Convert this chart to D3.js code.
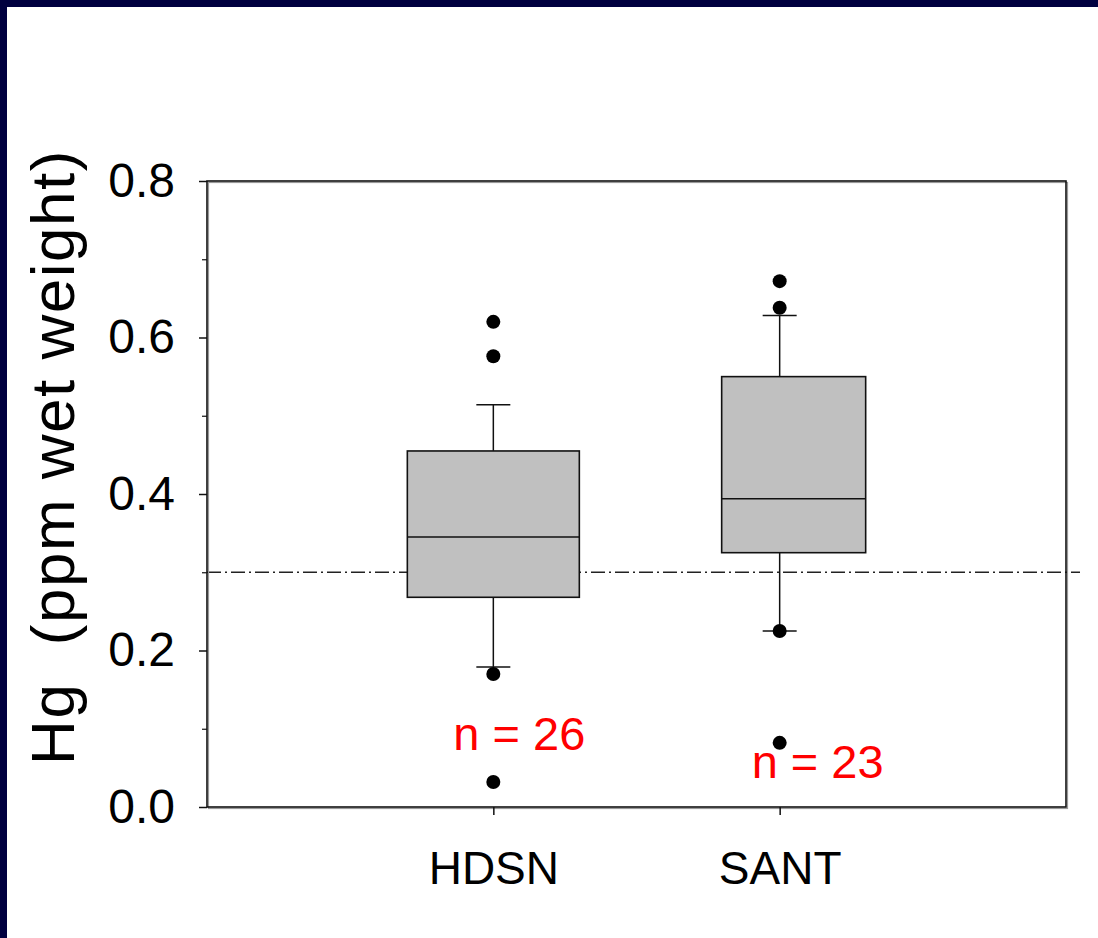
<!DOCTYPE html>
<html>
<head>
<meta charset="utf-8">
<script src="https://cdn.jsdelivr.net/npm/d3@7"></script>
<style>
  body { margin: 0; background: #ffffff; }
  svg { display: block; font-family: "Liberation Sans", Arial, sans-serif; }
</style>
</head>
<body>
<svg id="chart" width="1098" height="938"></svg>
<script>
// data
const categories = ["HDSN", "SANT"];
const q1 = [0.268, 0.325];
const medians = [0.345, 0.394];
const q3 = [0.455, 0.550];
const whiskLow = [0.179, 0.225];
const whiskHigh = [0.514, 0.628];
const outliers = [[0.620, 0.576, 0.170, 0.032], [0.672, 0.638, 0.225, 0.082]];
const nLabels = ["n = 26", "n = 23"];
const nLabelY = [0.089, 0.053];
const refLine = 0.3;
const yTicks = [0.0, 0.2, 0.4, 0.6, 0.8];
const yMinorTicks = [0.1, 0.3, 0.5, 0.7];

const svg = d3.select("#chart");
const W = +svg.attr("width"), H = +svg.attr("height");

// navy slide border
svg.append("rect").attr("x", 0).attr("y", 0).attr("width", W).attr("height", 7).attr("fill", "#00003f");
svg.append("rect").attr("x", 0).attr("y", 0).attr("width", 7).attr("height", H).attr("fill", "#00003f");

const margin = {left: 207, right: 32, top: 181, bottom: 131};
const plotW = W - margin.left - margin.right;
const plotH = H - margin.top - margin.bottom;

const x = d3.scalePoint().domain(categories).range([0, plotW]).padding(1);
const y = d3.scaleLinear().domain([0, 0.8]).range([plotH, 0]);

const plot = svg.append("g").attr("transform", `translate(${margin.left},${margin.top})`);

// box half-widths (left, right) per group, label offsets
const boxLeft = [86, 58];
const boxRight = [86, 86];
const capHalf = 17;
const nLabelDx = [26, 38];

// reference line
plot.append("line")
  .attr("x1", 0).attr("x2", plotW + 14)
  .attr("y1", y(refLine)).attr("y2", y(refLine))
  .attr("stroke", "#222").attr("stroke-width", 1.3)
  .attr("stroke-dasharray", "14,4,2,4");

categories.forEach((c, i) => {
  const cx = x(c);
  // whiskers
  plot.append("line").attr("x1", cx).attr("x2", cx)
    .attr("y1", y(q3[i])).attr("y2", y(whiskHigh[i]))
    .attr("stroke", "#111").attr("stroke-width", 1.5);
  plot.append("line").attr("x1", cx).attr("x2", cx)
    .attr("y1", y(q1[i])).attr("y2", y(whiskLow[i]))
    .attr("stroke", "#111").attr("stroke-width", 1.5);
  [whiskHigh[i], whiskLow[i]].forEach(v => {
    plot.append("line").attr("x1", cx - capHalf).attr("x2", cx + capHalf)
      .attr("y1", y(v)).attr("y2", y(v))
      .attr("stroke", "#111").attr("stroke-width", 1.5);
  });
  // box
  plot.append("rect")
    .attr("x", cx - boxLeft[i]).attr("width", boxLeft[i] + boxRight[i])
    .attr("y", y(q3[i])).attr("height", y(q1[i]) - y(q3[i]))
    .attr("fill", "#c0c0c0").attr("stroke", "#111").attr("stroke-width", 1.6);
  plot.append("line")
    .attr("x1", cx - boxLeft[i]).attr("x2", cx + boxRight[i])
    .attr("y1", y(medians[i])).attr("y2", y(medians[i]))
    .attr("stroke", "#111").attr("stroke-width", 1.5);
  // outliers
  plot.selectAll(null).data(outliers[i]).enter().append("circle")
    .attr("cx", cx).attr("cy", d => y(d)).attr("r", 7).attr("fill", "#000");
  // n labels
  plot.append("text")
    .attr("x", cx + nLabelDx[i]).attr("y", y(nLabelY[i]))
    .attr("text-anchor", "middle").attr("dominant-baseline", "middle")
    .attr("font-size", 47).attr("fill", "#ff0000")
    .text(nLabels[i]);
});

// frame with slight shadow
plot.append("rect").attr("x", 1.5).attr("y", 1.5).attr("width", plotW).attr("height", plotH)
  .attr("fill", "none").attr("stroke", "#999").attr("stroke-width", 1.2);
plot.append("rect").attr("x", 0).attr("y", 0).attr("width", plotW).attr("height", plotH)
  .attr("fill", "none").attr("stroke", "#111").attr("stroke-width", 1.6);

// y axis
const yAxis = plot.append("g")
  .call(d3.axisLeft(y).tickValues(yTicks).tickFormat(d3.format(".1f")).tickSize(8).tickPadding(24));
yAxis.select(".domain").remove();
yAxis.selectAll("line").attr("stroke", "#111").attr("stroke-width", 1.5);
yAxis.selectAll("text").attr("font-size", 48).attr("fill", "#000").attr("font-family", "Liberation Sans, Arial, sans-serif");

const yMinor = plot.append("g")
  .call(d3.axisLeft(y).tickValues(yMinorTicks).tickFormat("").tickSize(5));
yMinor.select(".domain").remove();
yMinor.selectAll("line").attr("stroke", "#111").attr("stroke-width", 1.2);

// x axis
const xAxis = plot.append("g").attr("transform", `translate(0,${plotH})`)
  .call(d3.axisBottom(x).tickSize(8).tickPadding(36));
xAxis.select(".domain").remove();
xAxis.selectAll("line").attr("stroke", "#111").attr("stroke-width", 1.5);
xAxis.selectAll("text").attr("font-size", 46).attr("fill", "#000").attr("font-family", "Liberation Sans, Arial, sans-serif");

// y label
svg.append("text")
  .attr("transform", `translate(74,457) rotate(-90)`)
  .attr("text-anchor", "middle")
  .attr("font-size", 62).attr("fill", "#000")
  .attr("letter-spacing", 1.5)
  .style("white-space", "pre")
  .text("Hg  (ppm wet weight)");
</script>
</body>
</html>
